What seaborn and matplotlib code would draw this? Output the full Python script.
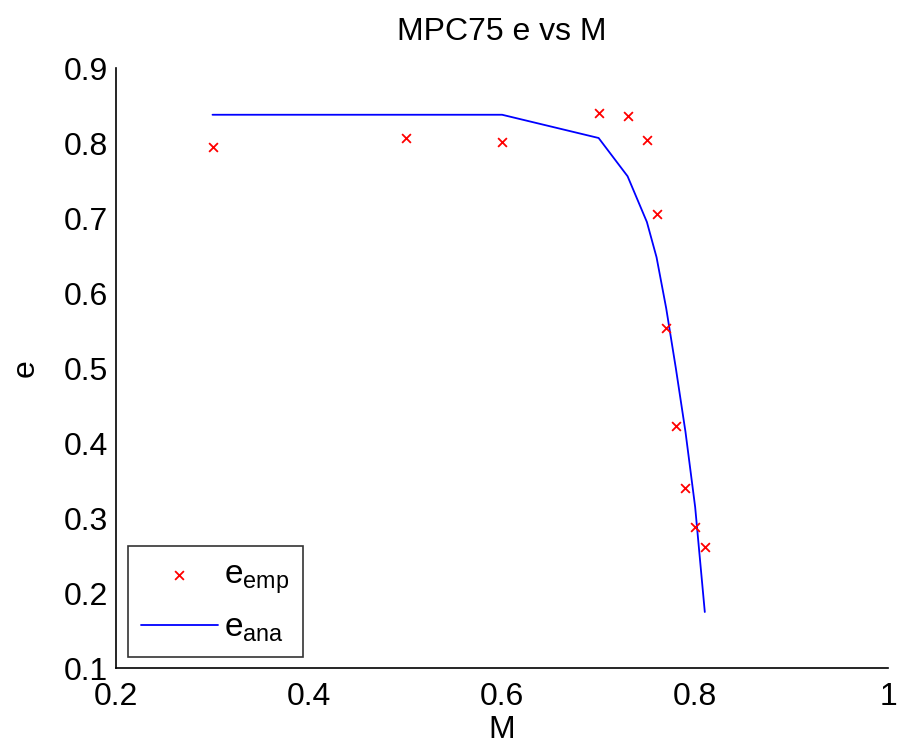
import matplotlib
matplotlib.use("Agg")
import matplotlib.pyplot as plt
import seaborn as sns
import pandas as pd

# Empirical points
m_emp = [0.30, 0.50, 0.60, 0.70, 0.73, 0.75, 0.76, 0.77, 0.78, 0.79, 0.80, 0.81]
e_emp = [0.795, 0.807, 0.802, 0.840, 0.836, 0.804, 0.706, 0.553, 0.423, 0.341, 0.289, 0.262]

# Analytical curve
m_ana = [0.30, 0.50, 0.60, 0.70, 0.73, 0.75, 0.76, 0.77, 0.78, 0.79, 0.80, 0.81]
e_ana = [0.838, 0.838, 0.838, 0.807, 0.756, 0.695, 0.648, 0.580, 0.500, 0.415, 0.315, 0.175]

x_ticks = [0.2, 0.4, 0.6, 0.8, 1.0]
x_ticklabels = ["0.2", "0.4", "0.6", "0.8", "1"]
y_ticks = [0.1, 0.2, 0.3, 0.4, 0.5, 0.6, 0.7, 0.8, 0.9]

sns.set_style("white")
plt.rcParams['font.family'] = ['Liberation Sans', 'DejaVu Sans']
plt.rcParams['mathtext.fontset'] = 'custom'
plt.rcParams['mathtext.rm'] = 'Liberation Sans'
plt.rcParams['text.color'] = 'black'
plt.rcParams['axes.labelcolor'] = 'black'

fig = plt.figure(figsize=(8.99, 7.5), dpi=100)
ax = fig.add_axes([0.129, 0.109, 0.859, 0.8])

df_emp = pd.DataFrame({"M": m_emp, "e": e_emp})
df_ana = pd.DataFrame({"M": m_ana, "e": e_ana})

sns.scatterplot(data=df_emp, x="M", y="e", ax=ax, marker="x", color="red",
                s=40, linewidth=1.3, label=r"$\mathregular{e_{emp}}$", zorder=3)
sns.lineplot(data=df_ana, x="M", y="e", ax=ax, color="blue", linewidth=1.3,
             label=r"$\mathregular{e_{ana}}$", sort=False, estimator=None)

ax.set_xlim(0.2, 1.0)
ax.set_ylim(0.1, 0.9)
ax.set_xticks(x_ticks)
ax.set_xticklabels(x_ticklabels)
ax.set_yticks(y_ticks)
ax.set_yticklabels([f"{v:.1f}" for v in y_ticks])
ax.tick_params(direction="in", length=6, width=1.2, labelsize=23, colors="black")
ax.tick_params(axis="x", pad=10)
ax.tick_params(axis="y", pad=6)

for s in ["top", "right"]:
    ax.spines[s].set_visible(False)
for s in ["left", "bottom"]:
    ax.spines[s].set_color("black")
    ax.spines[s].set_linewidth(1.2)

ax.set_xlabel("M", fontsize=23, labelpad=2, color="black")
ax.set_ylabel("e", fontsize=23, labelpad=16, color="black")
ax.set_title("MPC75 e vs M", fontsize=23, pad=20, color="black")

leg = ax.legend(loc="lower left", bbox_to_anchor=(0.015, 0.018), fontsize=24,
                frameon=True, fancybox=False, edgecolor="black", handlelength=2.3,
                borderaxespad=0, labelspacing=0.5, borderpad=0.4, handletextpad=0.2)
leg.get_frame().set_linewidth(1.2)

fig.savefig("out.png", dpi=100, facecolor="white")
